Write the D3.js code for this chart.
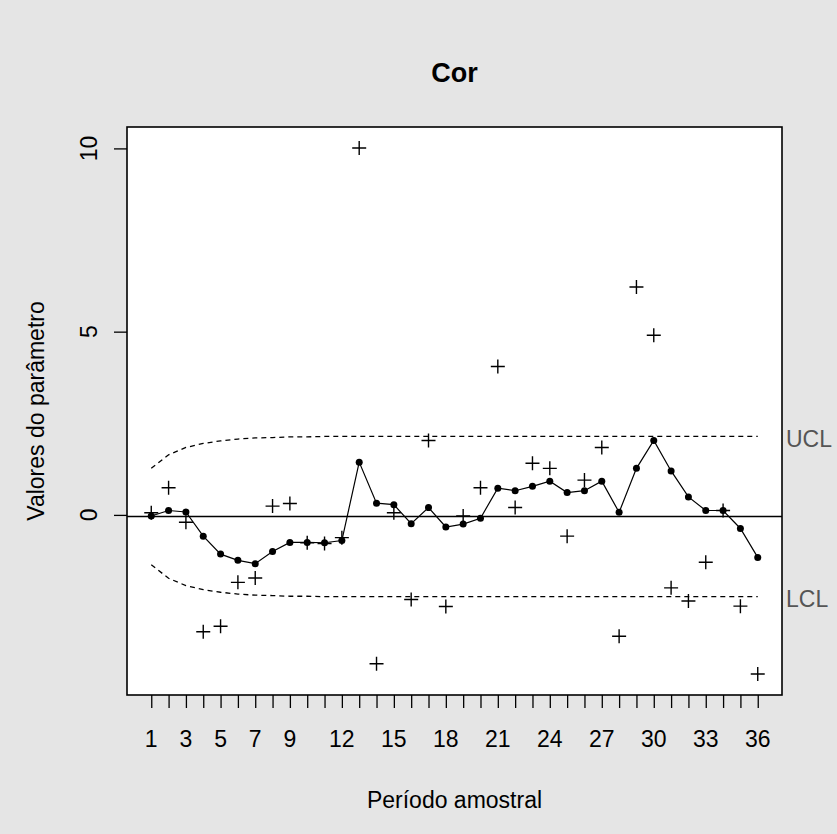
<!DOCTYPE html>
<html>
<head>
<meta charset="utf-8">
<script src="https://cdn.jsdelivr.net/npm/d3@7"></script>
<style>
  html, body { margin: 0; padding: 0; background: #e5e5e5; }
  svg { display: block; }
  text { font-family: "Liberation Sans", Arial, sans-serif; }
</style>
</head>
<body>
<svg id="chart" width="837" height="834"></svg>
<script>
// EWMA chart for "Cor": sample periods, raw observations, EWMA statistic, limits
const periods = d3.range(1, 37);
const observed = [0.06, 0.74, -0.20, -3.19, -3.04, -1.84, -1.72, 0.24, 0.31, -0.76,
  -0.78, -0.62, 10.01, -4.06, 0.06, -2.31, 2.03, -2.50, -0.03, 0.74,
  4.05, 0.20, 1.41, 1.27, -0.58, 0.95, 1.84, -3.31, 6.22, 4.90,
  -1.99, -2.35, -1.29, 0.12, -2.49, -4.34];
const ewma = [-0.03, 0.12, 0.08, -0.58, -1.07, -1.24, -1.33, -1.00, -0.75, -0.75,
  -0.76, -0.70, 1.44, 0.32, 0.28, -0.24, 0.20, -0.33, -0.25, -0.09,
  0.73, 0.66, 0.78, 0.92, 0.61, 0.66, 0.92, 0.07, 1.27, 2.03,
  1.20, 0.49, 0.12, 0.12, -0.37, -1.16];
const ucl = [1.27, 1.64, 1.84, 1.95, 2.02, 2.07, 2.10, 2.11, 2.13, 2.13,
  2.14, 2.14, 2.14, 2.14, 2.14, 2.14, 2.14, 2.14, 2.14, 2.14,
  2.14, 2.14, 2.14, 2.14, 2.14, 2.14, 2.14, 2.14, 2.14, 2.14,
  2.14, 2.14, 2.14, 2.14, 2.14, 2.14];
const lcl = [-1.36, -1.73, -1.93, -2.04, -2.11, -2.16, -2.19, -2.20, -2.22, -2.22,
  -2.23, -2.23, -2.23, -2.23, -2.23, -2.23, -2.23, -2.23, -2.23, -2.23,
  -2.23, -2.23, -2.23, -2.23, -2.23, -2.23, -2.23, -2.23, -2.23, -2.23,
  -2.23, -2.23, -2.23, -2.23, -2.23, -2.23];
const center = -0.045;
const xTickLabels = [1, 3, 5, 7, 9, 12, 15, 18, 21, 24, 27, 30, 33, 36];
const yTicks = [0, 5, 10];

const svg = d3.select("#chart");
const box = { left: 127, right: 782, top: 127, bottom: 695 };
const midX = (box.left + box.right) / 2;
const fontSize = 23;

// axis ranges padded by 4% on each side
const xMin = 1, xMax = 36;
const xPad = (xMax - xMin) * 0.04;
const yLo = d3.min(observed.concat(lcl)), yHi = d3.max(observed.concat(ucl));
const yPad = (yHi - yLo) * 0.04;
const x = d3.scaleLinear().domain([xMin - xPad, xMax + xPad]).range([box.left, box.right]);
const y = d3.scaleLinear().domain([yLo - yPad, yHi + yPad]).range([box.bottom, box.top]);

// plotting region
svg.append("rect")
  .attr("x", box.left).attr("y", box.top)
  .attr("width", box.right - box.left).attr("height", box.bottom - box.top)
  .attr("fill", "#ffffff");

svg.append("clipPath").attr("id", "plotclip")
  .append("rect")
  .attr("x", box.left).attr("y", box.top)
  .attr("width", box.right - box.left).attr("height", box.bottom - box.top);

const plot = svg.append("g").attr("clip-path", "url(#plotclip)");

// center line
plot.append("line")
  .attr("x1", box.left).attr("x2", box.right)
  .attr("y1", y(center)).attr("y2", y(center))
  .attr("stroke", "#000").attr("stroke-width", 1.5);

// control limits
const limitLine = d3.line().x((d, i) => x(periods[i])).y(d => y(d));
[ucl, lcl].forEach(arr => {
  plot.append("path")
    .attr("d", limitLine(arr))
    .attr("fill", "none")
    .attr("stroke", "#000")
    .attr("stroke-width", 1.3)
    .attr("stroke-dasharray", "5,4");
});

// raw observations as plus signs
const plusSize = 7;
plot.selectAll("path.obs")
  .data(observed)
  .join("path")
  .attr("class", "obs")
  .attr("d", (d, i) => {
    const cx = x(periods[i]), cy = y(d);
    return `M${cx - plusSize},${cy}H${cx + plusSize}M${cx},${cy - plusSize}V${cy + plusSize}`;
  })
  .attr("stroke", "#000")
  .attr("stroke-width", 1.4)
  .attr("fill", "none");

// EWMA statistic
const statLine = d3.line().x((d, i) => x(periods[i])).y(d => y(d));
plot.append("path")
  .attr("d", statLine(ewma))
  .attr("fill", "none")
  .attr("stroke", "#000")
  .attr("stroke-width", 1.2);

plot.selectAll("circle.stat")
  .data(ewma)
  .join("circle")
  .attr("class", "stat")
  .attr("cx", (d, i) => x(periods[i]))
  .attr("cy", d => y(d))
  .attr("r", 3.5)
  .attr("fill", "#000");

// frame
svg.append("rect")
  .attr("x", box.left).attr("y", box.top)
  .attr("width", box.right - box.left).attr("height", box.bottom - box.top)
  .attr("fill", "none").attr("stroke", "#000").attr("stroke-width", 1.6);

// x axis
const xAxis = d3.axisBottom(x)
  .tickValues(periods)
  .tickSize(13)
  .tickSizeOuter(0)
  .tickFormat(() => "");
const gx = svg.append("g")
  .attr("transform", `translate(0,${box.bottom})`)
  .call(xAxis);
gx.select(".domain").remove();
gx.selectAll(".tick line").attr("stroke", "#000").attr("stroke-width", 1.3);

svg.append("g").selectAll("text")
  .data(xTickLabels)
  .join("text")
  .attr("x", d => x(d))
  .attr("y", 747)
  .attr("text-anchor", "middle")
  .attr("font-size", fontSize)
  .attr("fill", "#000")
  .text(d => d);

// y axis
const yAxis = d3.axisLeft(y)
  .tickValues(yTicks)
  .tickSize(13)
  .tickSizeOuter(0)
  .tickFormat(() => "");
const gy = svg.append("g")
  .attr("transform", `translate(${box.left},0)`)
  .call(yAxis);
gy.select(".domain").remove();
gy.selectAll(".tick line").attr("stroke", "#000").attr("stroke-width", 1.3);

svg.append("g").selectAll("text")
  .data(yTicks)
  .join("text")
  .attr("transform", d => `translate(97,${y(d)}) rotate(-90)`)
  .attr("text-anchor", "middle")
  .attr("font-size", fontSize)
  .attr("fill", "#000")
  .text(d => d);

// limit labels in the right margin
svg.append("text")
  .attr("x", 786)
  .attr("y", y(ucl[ucl.length - 1]))
  .attr("dy", "0.45em")
  .attr("font-size", fontSize)
  .attr("fill", "#555")
  .text("UCL");
svg.append("text")
  .attr("x", 786)
  .attr("y", y(lcl[lcl.length - 1]))
  .attr("dy", "0.45em")
  .attr("font-size", fontSize)
  .attr("fill", "#555")
  .text("LCL");

// titles
svg.append("text")
  .attr("x", midX)
  .attr("y", 82)
  .attr("text-anchor", "middle")
  .attr("font-size", 27)
  .attr("font-weight", "bold")
  .attr("fill", "#000")
  .text("Cor");

svg.append("text")
  .attr("x", midX)
  .attr("y", 808)
  .attr("text-anchor", "middle")
  .attr("font-size", fontSize)
  .attr("fill", "#000")
  .text("Período amostral");

svg.append("text")
  .attr("transform", `translate(44,${(box.top + box.bottom) / 2}) rotate(-90)`)
  .attr("text-anchor", "middle")
  .attr("font-size", fontSize)
  .attr("fill", "#000")
  .text("Valores do parâmetro");
</script>
</body>
</html>
